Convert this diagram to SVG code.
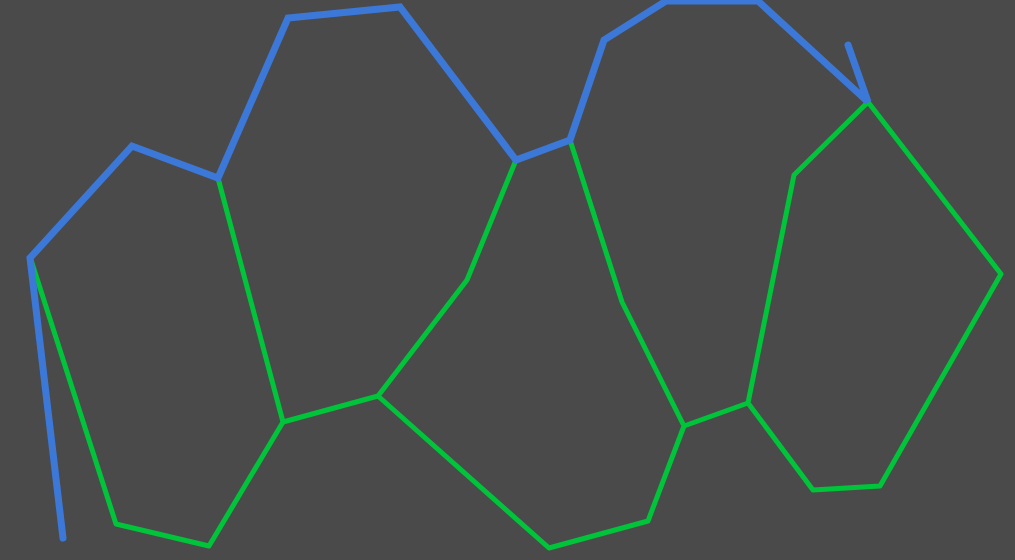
<svg xmlns="http://www.w3.org/2000/svg" width="1015" height="560" viewBox="0 0 1015 560">
<style>
.g{fill:none;stroke:#00c43a;stroke-width:5;stroke-linejoin:round}
.b{fill:none;stroke:#3c78d8;stroke-width:7;stroke-linejoin:miter;stroke-linecap:round}
</style>
<rect width="1015" height="560" fill="#4a4a4a"/>
<g id="green">
<polyline class="g" points="31,260 116,524 209,546 283,422"/>
<polyline class="g" points="218,178 283,422 378,396 467,280 516,160"/>
<polyline class="g" points="378,396 549,548 648,521 684,426 622,302 570,140"/>
<polyline class="g" points="684,426 748,403 794,175 868,102 1001,274 880,486 813,490 748,403"/>
</g>
<g id="blue">
<polyline class="b" points="63,538 30,258 132,146 218,178 288,18 400,7 516,160 570,140 604,40 666,1 758,1 868,102 848,45"/>
</g>
</svg>
